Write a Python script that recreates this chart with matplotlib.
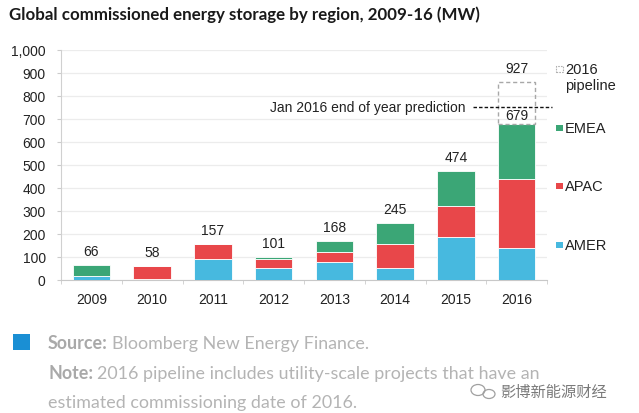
import matplotlib
matplotlib.use("Agg")
import matplotlib.pyplot as plt
from matplotlib.patches import Rectangle, Ellipse
import numpy as np

years = ["2009", "2010", "2011", "2012", "2013", "2014", "2015", "2016"]
amer = [14, 3, 92, 52, 77, 52, 188, 138]
apac = [0, 55, 65, 38, 45, 105, 134, 300]
emea = [52, 0, 0, 11, 46, 88, 152, 241]
pipeline = [0, 0, 0, 0, 0, 0, 0, 183]
total_labels = ["66", "58", "157", "101", "168", "245", "474", "679"]
pipeline_label = "927"
prediction = 750
yticks = [0, 100, 200, 300, 400, 500, 600, 700, 800, 900, 1000]

C_AMER = "#47b9df"
C_APAC = "#e8474a"
C_EMEA = "#3ba676"

W, H = 639, 414
fig = plt.figure(figsize=(W / 100, H / 100), dpi=100)
fig.patch.set_facecolor("white")

def fx(px):
    return px / W

def fy(py):
    return 1 - py / H

ax = fig.add_axes([fx(61), fy(280.7), fx(547) - fx(61), fy(51) - fy(280.7)])
x = np.arange(len(years))
bw = 0.62
amer_a = np.array(amer)
apac_a = np.array(apac)
emea_a = np.array(emea)
ax.bar(x, amer_a, bw, color=C_AMER, edgecolor="white", linewidth=0.6, zorder=3)
ax.bar(x, apac_a, bw, bottom=amer_a, color=C_APAC, edgecolor="white", linewidth=0.6, zorder=3)
ax.bar(x, emea_a, bw, bottom=amer_a + apac_a, color=C_EMEA, edgecolor="white", linewidth=0.6, zorder=3)
tot = amer_a + apac_a + emea_a
pipe = np.array(pipeline)
mask = pipe > 0
ax.bar(x[mask], pipe[mask], bw, bottom=tot[mask], fill=False, edgecolor="#a8a8a8",
       linestyle=(0, (3, 2)), linewidth=1.0, zorder=3)

for i, lab in enumerate(total_labels):
    off = 14 if i < len(years) - 1 else 9
    ax.annotate(lab, (x[i], tot[i]), xytext=(0, off), textcoords="offset pixels",
                ha="center", va="center", fontsize=10, family="Liberation Sans", color="#222222")
for i in np.where(mask)[0]:
    ax.annotate(pipeline_label, (x[i], tot[i] + pipe[i]), xytext=(0, 14), textcoords="offset pixels",
                ha="center", va="center", fontsize=10, family="Liberation Sans", color="#222222")

# prediction annotation
ax.text(2.94, prediction, "Jan 2016 end of year prediction", ha="left", va="center",
        fontsize=10, family="Liberation Sans", color="#222222", zorder=4)
ax.plot([6.28, 7.58], [prediction, prediction], color="#111111", linestyle=(0, (2.5, 1.5)),
        linewidth=1.0, clip_on=False, zorder=4)

ax.set_xlim(-0.5, len(years) - 0.5)
ax.set_ylim(0, 1000)
ax.set_yticks(yticks)
ax.set_yticklabels([f"{v:,}" for v in yticks], family="Liberation Sans", fontsize=10, color="#222222")
ax.set_xticks(x)
ax.set_xticklabels(years, family="Liberation Sans", fontsize=10, color="#222222")
ax.set_xticks(np.arange(len(years) + 1) - 0.5, minor=True)
ax.tick_params(axis="x", which="major", length=0, pad=9)
ax.tick_params(axis="x", which="minor", length=3, color="#cccccc")
ax.tick_params(axis="y", length=3, color="#cccccc", pad=8)
ax.grid(axis="y", color="#ececec", linewidth=0.9, zorder=0)
for s in ["top", "right"]:
    ax.spines[s].set_visible(False)
ax.spines["left"].set_color("#d0d0d0")
ax.spines["bottom"].set_color("#c8c8c8")

# Legend (custom)
def leg_square(px, py, color, dashed=False):
    s = 6.5
    if dashed:
        r = Rectangle((fx(px), fy(py + s / 2)), fx(s), s / H, transform=fig.transFigure,
                      fill=False, edgecolor="#b0b0b0", linestyle=(0, (1.5, 1)), linewidth=0.8)
    else:
        r = Rectangle((fx(px), fy(py + s / 2)), fx(s), s / H, transform=fig.transFigure,
                      facecolor=color, edgecolor="none")
    fig.add_artist(r)

lf = dict(family="Liberation Sans", fontsize=10.5, color="#222222", va="center", ha="left")
leg_square(556, 70, None, dashed=True)
fig.text(fx(565), fy(70), "2016", **lf)
fig.text(fx(565), fy(86), "pipeline", **lf)
leg_square(556, 129, C_EMEA)
fig.text(fx(565), fy(129), "EMEA", **lf)
leg_square(556, 187, C_APAC)
fig.text(fx(565), fy(187), "APAC", **lf)
leg_square(556, 246, C_AMER)
fig.text(fx(565), fy(246), "AMER", **lf)

# Title
fig.text(fx(9), fy(15), "Global commissioned energy storage by region, 2009-16 (MW)",
         family="Lato", fontweight="bold", fontsize=12.2, color="#1a1a1a", va="center", ha="left")

# Footer
fig.add_artist(Rectangle((fx(13), fy(351)), fx(17), 16 / H, transform=fig.transFigure,
                         facecolor="#1a8fd4", edgecolor="none"))
fc = "#b4b4b4"
fsz = 12.9
renderer = fig.canvas.get_renderer()

def two_part(py, bold, rest):
    t = fig.text(fx(48), fy(py), bold, family="Lato", fontweight="bold", fontsize=fsz,
                 color="#a9a9a9", va="center", ha="left")
    bb = t.get_window_extent(renderer=renderer)
    fig.text(bb.x1 / W + fx(4), fy(py), rest, family="Lato", fontweight="normal", fontsize=fsz,
             color=fc, va="center", ha="left")

two_part(344, "Source:", "Bloomberg New Energy Finance.")
two_part(374, "Note:", "2016 pipeline includes utility-scale projects that have an")
fig.text(fx(48), fy(403), "estimated commissioning date of 2016.", family="Lato", fontweight="normal",
         fontsize=fsz, color=fc, va="center", ha="left")

# watermark
fig.add_artist(Ellipse((fx(478), fy(391)), fx(14), 11 / H, transform=fig.transFigure,
                       fill=False, edgecolor="#a0a0a0", linewidth=0.9))
fig.add_artist(Ellipse((fx(489), fy(395)), fx(12), 9 / H, transform=fig.transFigure,
                       fill=False, edgecolor="#a0a0a0", linewidth=0.9))
fig.text(fx(500), fy(392), "影博新能源财经", family=["Noto Sans CJK SC", "DejaVu Sans"],
         fontsize=11, color="#7a7a7a", va="center", ha="left")

fig.savefig("out.png", dpi=100, facecolor="white")
